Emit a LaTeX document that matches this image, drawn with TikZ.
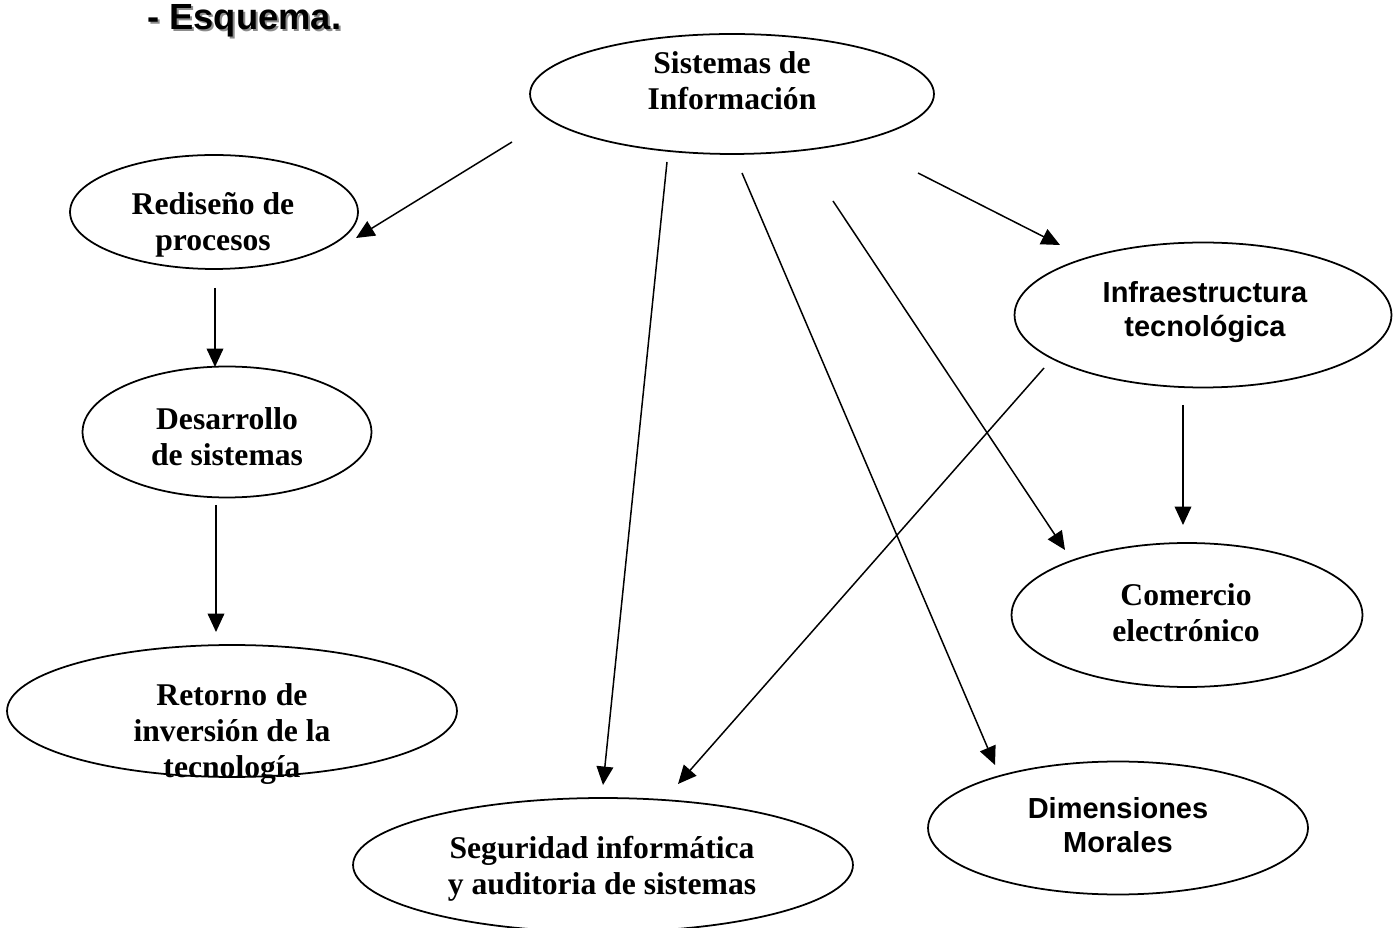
\documentclass[tikz,border=0pt]{standalone}
\usepackage{fontspec}
\setmainfont{Liberation Serif}
\setsansfont{Liberation Sans}
\usetikzlibrary{shapes.geometric,arrows.meta}
\tikzstyle{oval}=[ellipse, draw, line width=1pt, inner sep=0pt]
\tikzstyle{serif}=[align=center, font=\fontsize{18}{20.5}\selectfont\bfseries]
\tikzstyle{sans}=[align=center, font=\fontsize{16.5}{19.3}\selectfont\sffamily\bfseries]
\tikzstyle{arr}=[-{Triangle[length=10.5pt,width=9.5pt]}, line width=0.85pt]
\begin{document}
\begin{tikzpicture}[x=0.02cm,y=-0.02cm]
  \useasboundingbox (0,0) rectangle (1393,928);
  %% Title
  \draw (143,32) node[anchor=base west,font=\fontsize{20.7}{24}\selectfont\sffamily\bfseries,text=black!45] (ttlsh) {- Esquema.};
  \draw (141,30) node[anchor=base west,font=\fontsize{20.7}{24}\selectfont\sffamily\bfseries] (ttl) {- Esquema.};

  %% Ovals
  \draw (732,94) node[oval,minimum width=8.08cm,minimum height=2.4cm] (sist) {};
  \draw (214,212) node[oval,minimum width=5.76cm,minimum height=2.28cm] (redis) {};
  \draw (227,432) node[oval,minimum width=5.78cm,minimum height=2.62cm] (desa) {};
  \draw (232,711) node[oval,minimum width=9.0cm,minimum height=2.64cm] (reto) {};
  \draw (603,865) node[oval,minimum width=10.0cm,minimum height=2.68cm] (segu) {};
  \draw (1118,828) node[oval,minimum width=7.6cm,minimum height=2.66cm] (dime) {};
  \draw (1187,615) node[oval,minimum width=7.02cm,minimum height=2.88cm] (come) {};
  \draw (1203,315) node[oval,minimum width=7.54cm,minimum height=2.9cm] (infr) {};

  %% Texts
  \draw (732,81) node[serif] (sist-t) {Sistemas de\\Información};
  \draw (213,225) node[serif] (redis-t) {Rediseño de\\procesos};
  \draw (227,437) node[serif] (desa-t) {Desarrollo\\de sistemas};
  \draw (232,734) node[serif] (reto-t) {Retorno\hspace{5pt}de\\inversión de la\\tecnología};
  \draw (602,869) node[serif] (segu-t) {Seguridad informática\\y auditoria de sistemas};
  \draw (1118,825) node[sans] (dime-t) {Dimensiones\\Morales};
  \draw (1186,613) node[serif] (come-t) {Comercio\\electrónico};
  \draw (1205,312) node[sans] (infr-t) {Infraestructura\\tecnológica};

  %% Arrow ends
  \coordinate (a1) at (512,142);  \coordinate (b1) at (356,238);
  \coordinate (a2) at (215,288);  \coordinate (b2) at (215,367);
  \coordinate (a3) at (216,505);  \coordinate (b3) at (216,632);
  \coordinate (a4) at (667,162);  \coordinate (b4) at (603,785);
  \coordinate (a5) at (742,173);  \coordinate (b5) at (995,765);
  \coordinate (a6) at (833,201);  \coordinate (b6) at (1065,550);
  \coordinate (a7) at (918,173);  \coordinate (b7) at (1060,245);
  \coordinate (a8) at (1044,368); \coordinate (b8) at (678,784);
  \coordinate (a9) at (1183,405); \coordinate (b9) at (1183,525);

  \draw[arr] (a1) -- (b1);
  \draw[arr] (a2) -- (b2);
  \draw[arr] (a3) -- (b3);
  \draw[arr] (a4) -- (b4);
  \draw[arr] (a5) -- (b5);
  \draw[arr] (a6) -- (b6);
  \draw[arr] (a7) -- (b7);
  \draw[arr] (a8) -- (b8);
  \draw[arr] (a9) -- (b9);
\end{tikzpicture}
\end{document}
